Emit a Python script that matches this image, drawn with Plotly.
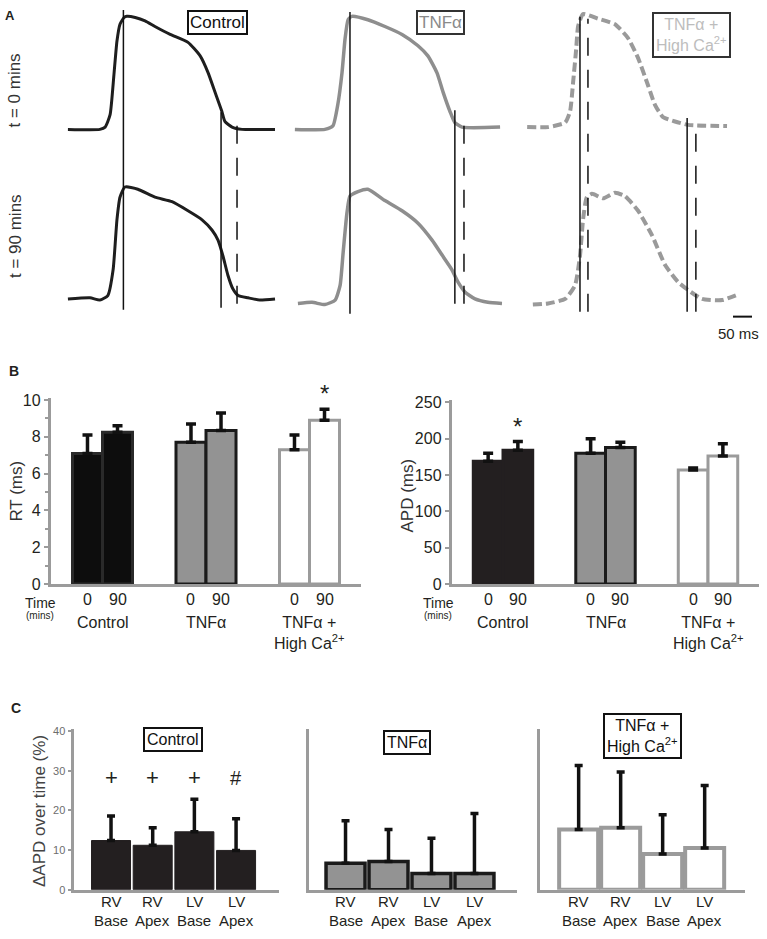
import plotly.graph_objects as go

# ======================= DATA =======================
# Panel A: optical action potentials (time in ms from sweep start, normalised amplitude)
ctrl_t0_time = [34, 118, 132, 145, 155, 163, 171, 182, 189, 211, 237, 263, 303, 350, 382, 403, 421, 439, 447, 466, 492, 579]
ctrl_t0_v = [0, 0, 0.02, 0.13, 0.48, 0.78, 0.93, 0.99, 1.0, 0.99, 0.96, 0.91, 0.84, 0.77, 0.65, 0.50, 0.33, 0.16, 0.07, 0.02, 0, 0]
ctrl_t90_time = [34, 92, 118, 139, 153, 163, 171, 184, 218, 263, 308, 350, 387, 413, 429, 442, 455, 468, 482, 508, 539, 579]
ctrl_t90_v = [0, 0.01, -0.01, 0.03, 0.26, 0.70, 0.90, 0.99, 0.97, 0.90, 0.86, 0.78, 0.70, 0.61, 0.52, 0.38, 0.21, 0.09, 0.03, 0.01, -0.01, 0]

tnf_t0_time = [26, 105, 126, 139, 150, 158, 166, 176, 218, 263, 308, 350, 376, 400, 416, 434, 447, 466, 566]
tnf_t0_v = [0, 0, 0.03, 0.22, 0.50, 0.80, 0.97, 1.0, 0.97, 0.91, 0.84, 0.74, 0.65, 0.50, 0.33, 0.16, 0.06, 0.02, 0.02]
tnf_t90_time = [34, 71, 105, 132, 145, 153, 163, 171, 192, 218, 263, 308, 350, 387, 413, 439, 455, 474, 500, 534, 571]
tnf_t90_v = [-0.04, -0.03, -0.05, -0.01, 0.12, 0.41, 0.76, 0.91, 0.95, 0.97, 0.87, 0.78, 0.67, 0.52, 0.39, 0.26, 0.15, 0.06, 0.0, -0.03, -0.04]

ca_t0_time = [32, 87, 132, 145, 153, 161, 166, 179, 218, 263, 297, 324, 350, 368, 389, 421, 455, 558]
ca_t0_v = [0.02, 0.02, 0.06, 0.16, 0.42, 0.71, 0.91, 1.02, 0.98, 0.93, 0.81, 0.63, 0.39, 0.22, 0.11, 0.07, 0.04, 0.03]
ca_t90_time = [47, 87, 132, 158, 171, 179, 189, 203, 232, 263, 289, 324, 361, 395, 429, 455, 492, 545, 587]
ca_t90_v = [-0.05, -0.04, 0.0, 0.12, 0.38, 0.70, 0.90, 0.93, 0.89, 0.94, 0.91, 0.78, 0.56, 0.30, 0.15, 0.08, 0.0, -0.01, 0.04]

# activation / repolarisation times (ms) at t=0 and t=90 mins
ctrl_act = [180, 180]
ctrl_rep = [437, 479]
tnf_act = [171, 171]
tnf_rep = [447, 471]
ca_act = [171, 192]
ca_rep = [453, 476]
scale_bar_ms = 50

# Panel B
groups_b = ["Control", "TNFα", "TNFα + High Ca²⁺"]
group_labels_b = ["Control", "TNFα", "TNFα +<br>High Ca<sup>2+</sup>"]
time_labels = ["0", "90"]
rt_0 = [7.1, 7.7, 7.3]
rt_0_err = [1.0, 1.0, 0.8]
rt_90 = [8.25, 8.35, 8.9]
rt_90_err = [0.35, 0.95, 0.6]
apd_0 = [169, 180, 157]
apd_0_err = [11, 20, 2.5]
apd_90 = [184, 188, 176]
apd_90_err = [12, 7, 17]
rt_star_group = 2      # * above TNFα + High Ca 90 min
apd_star_group = 0     # * above Control 90 min

# Panel C
regions = ["RV Base", "RV Apex", "LV Base", "LV Apex"]
dapd_ctrl = [12.4, 11.2, 14.6, 9.9]
dapd_ctrl_err = [6.2, 4.4, 8.2, 8.0]
dapd_tnf = [6.7, 7.1, 4.1, 4.1]
dapd_tnf_err = [10.7, 8.1, 8.9, 15.1]
dapd_ca = [15.2, 15.6, 9.0, 10.5]
dapd_ca_err = [16.1, 14.1, 9.9, 15.8]
ctrl_marks_c = ["+", "+", "+", "#"]

# ======================= LAYOUT HELPERS =======================
W, H = 767, 939
FONT = "Liberation Sans, Arial, sans-serif"
TXT = "#231f20"
AXC = "#9b9b9b"


def px(x):
    return x / W


def py(y):
    return 1 - y / H


fig = go.Figure()
layout = dict(width=W, height=H, margin=dict(l=0, r=0, t=0, b=0),
              paper_bgcolor="white", plot_bgcolor="white", showlegend=False,
              barmode="overlay", font=dict(family=FONT, color=TXT))
annotations = []
shapes = []


def ann(text, x, y, size, color=TXT, xref="paper", yref="paper", **kw):
    d = dict(text=text, x=px(x) if xref == "paper" else x, y=py(y) if yref == "paper" else y,
             xref=xref, yref=yref, showarrow=False,
             font=dict(family=FONT, size=size, color=color),
             xanchor=kw.pop("xanchor", "center"), yanchor=kw.pop("yanchor", "middle"))
    d.update(kw)
    annotations.append(d)


# ======================= PANEL A =======================
A_COLS = [(55, 285), (285, 510), (515, 767)]
PX_PER_MS = 0.38
A_TOP, A_BOT = 0, 318
A_BASE, A_AMP = 297, 115
A_OFFSET = 1.5
a_yrange = [(A_BASE - A_BOT) / A_AMP, (A_BASE - A_TOP) / A_AMP]

cols = [
    (ctrl_t0_time, ctrl_t0_v, ctrl_t90_time, ctrl_t90_v, "#1e1e1e", 3, "solid", ctrl_act, ctrl_rep),
    (tnf_t0_time, tnf_t0_v, tnf_t90_time, tnf_t90_v, "#8e8e8e", 3.5, "solid", tnf_act, tnf_rep),
    (ca_t0_time, ca_t0_v, ca_t90_time, ca_t90_v, "#9a9a9a", 4, "9px,4px", ca_act, ca_rep),
]
# vertical extents (px) of marker lines: [act0, act90, rep0, rep90]
vext = [
    [(3, 308), (3, 308), (107, 306), (110, 302)],
    [(5, 312), (5, 312), (105, 302), (110, 302)],
    [(10, 310), (12, 310), (113, 310), (115, 310)],
]
VDASH = "18px,14px"

for i, (t0, v0, t9, v9, col, lw, dash, act, rep) in enumerate(cols):
    sfx = "" if i == 0 else str(i + 1)
    xa, ya = "x" + sfx, "y" + sfx
    l, r = A_COLS[i]
    layout["xaxis" + sfx] = dict(domain=[px(l), px(r)], range=[0, (r - l) / PX_PER_MS],
                                  anchor=ya, visible=False)
    layout["yaxis" + sfx] = dict(domain=[py(A_BOT), py(A_TOP)], range=a_yrange,
                                  anchor=xa, visible=False)
    fig.add_trace(go.Scatter(x=t0, y=[v + A_OFFSET for v in v0], mode="lines",
                             line=dict(color=col, width=lw, dash=dash, shape="spline", smoothing=0.5),
                             xaxis=xa, yaxis=ya, hoverinfo="skip"))
    fig.add_trace(go.Scatter(x=t9, y=v9, mode="lines",
                             line=dict(color=col, width=lw, dash=dash, shape="spline", smoothing=0.5),
                             xaxis=xa, yaxis=ya, hoverinfo="skip"))
    ext = vext[i]
    marks = [(act[0], ext[0], "solid"), (act[1], ext[1], VDASH),
             (rep[0], ext[2], "solid"), (rep[1], ext[3], VDASH)]
    if act[0] == act[1]:
        marks.pop(1)
    for t, (top, bot), d in marks:
        shapes.append(dict(type="line", xref=xa, yref="paper", x0=t, x1=t,
                           y0=py(bot), y1=py(top), line=dict(color="#111", width=1.5, dash=d)))

# scale bar
sb_x0 = (733 - A_COLS[2][0]) / PX_PER_MS
shapes.append(dict(type="line", xref="x3", yref="paper", x0=sb_x0, x1=sb_x0 + scale_bar_ms,
                   y0=py(315), y1=py(315), line=dict(color="#111", width=2)))
ann(f"{scale_bar_ms} ms", sb_x0 + scale_bar_ms, 332, 15, xref="x3", xanchor="right", xshift=9)

ann("<b>A</b>", 10, 9, 13)
ann("t = 0 mins", 15, 85, 17, color="#333", textangle=-90)
ann("t = 90 mins", 15, 233, 17, color="#333", textangle=-90)
ann("Control", 217, 16, 17, color="#111", bordercolor="#111", borderwidth=2, borderpad=1, bgcolor="white")
ann("TNFα", 440, 16, 17, color="#8a8a8a", bordercolor="#333", borderwidth=2, borderpad=1, bgcolor="white")
ann("TNFα +<br>High Ca<sup>2+</sup>", 691, 28, 16, color="#bdbdbd", bordercolor="#333",
    borderwidth=2, borderpad=2, bgcolor="white")

# ======================= PANEL B =======================
fills_b = ["#0d0d0d", "#939393", "white"]
lines_b = ["#2a2a2a", "#1a1a1a", "#9b9b9b"]
BW = 0.29


def bpanel(n, dom_x, dom_y, yrange, vals0, err0, vals1, err1, tickvals, minor, fills, lines):
    xa, ya = f"x{n}", f"y{n}"
    layout[f"xaxis{n}"] = dict(domain=[px(dom_x[0]), px(dom_x[1])], anchor=ya, type="category",
                               categoryarray=groups_b, range=[-0.5, 2.5], showline=True,
                               linecolor=AXC, linewidth=3, showticklabels=False, ticks="",
                               showgrid=False, zeroline=False)
    yax = dict(domain=[py(dom_y[1]), py(dom_y[0])], anchor=xa, range=yrange, showline=True,
               linecolor=AXC, linewidth=3, ticks="outside", ticklen=4, tickwidth=2,
               tickcolor=AXC, tickvals=tickvals, showgrid=False, zeroline=False,
               tickfont=dict(family=FONT, size=16, color=TXT))
    if minor:
        yax["minor"] = dict(tickvals=minor, ticks="outside", ticklen=3, tickwidth=1.5, tickcolor=AXC)
    layout[f"yaxis{n}"] = yax
    for vals, errs, off in [(vals0, err0, -BW), (vals1, err1, 0)]:
        fig.add_trace(go.Bar(x=groups_b, y=vals, width=BW, offset=off,
                             marker=dict(color=fills, line=dict(color=lines, width=3)),
                             error_y=dict(type="data", array=errs, arrayminus=[0] * len(errs),
                                          symmetric=False, color="#111", thickness=3.5, width=5),
                             xaxis=xa, yaxis=ya, hoverinfo="skip"))
    for g, lab in enumerate(group_labels_b):
        ann(time_labels[0], g - BW / 2, 603, 16, xref=xa)
        ann(time_labels[1], g + BW / 2, 603, 16, xref=xa)
        ann(lab, g, 615, 16, xref=xa, yanchor="top")


bpanel(4, (50.75, 361.25), (398, 587), [0, 10.1], rt_0, rt_0_err, rt_90, rt_90_err,
       [0, 2, 4, 6, 8, 10], [1, 3, 5, 7, 9], fills_b, lines_b)
bpanel(5, (451.75, 759.25), (400, 587), [0, 253], apd_0, apd_0_err, apd_90, apd_90_err,
       [0, 50, 100, 150, 200, 250], None, ["#231f20", "#939393", "white"],
       ["#231f20", "#1a1a1a", "#9b9b9b"])

ann("*", rt_star_group + BW / 2, rt_90[rt_star_group] + rt_90_err[rt_star_group], 24,
    xref="x4", yref="y4", yanchor="bottom", yshift=0)
ann("*", apd_star_group + BW / 2, apd_90[apd_star_group] + apd_90_err[apd_star_group], 24,
    xref="x5", yref="y5", yanchor="bottom", yshift=0)

ann("<b>B</b>", 14, 370, 14)
ann("RT (ms)", 17, 493, 17, textangle=-90, color="#333")
ann("APD (ms)", 408, 497, 17, textangle=-90, color="#333")
for tx in (40, 438):
    ann("Time", tx, 597, 14, yanchor="top", borderpad=0)
    ann("(mins)", tx, 612, 10, yanchor="top", borderpad=0)

# ======================= PANEL C =======================
C_TOP, C_BOT = 735, 898
cpanels = [
    (6, (73.5, 279), [-0.9, 4.03], dapd_ctrl, dapd_ctrl_err, "#231f20", "#231f20", 1, True),
    (7, (309, 517), [-0.85, 3.99], dapd_tnf, dapd_tnf_err, "#939393", "#1a1a1a", 3.5, False),
    (8, (540, 745), [-0.92, 3.96], dapd_ca, dapd_ca_err, "white", "#9b9b9b", 4, False),
]
for n, (l, r), xr, vals, errs, fill, lcol, lw, labels in cpanels:
    xa, ya = f"x{n}", f"y{n}"
    layout[f"xaxis{n}"] = dict(domain=[px(l), px(r)], anchor=ya, type="category",
                               categoryarray=regions, range=xr, showline=True, linecolor=AXC,
                               linewidth=3, showticklabels=False, ticks="", showgrid=False,
                               zeroline=False)
    layout[f"yaxis{n}"] = dict(domain=[py(C_BOT), py(C_TOP)], anchor=xa, range=[0, 40.4],
                               showline=True, linecolor=AXC, linewidth=3,
                               ticks="outside" if labels else "", ticklen=3, tickwidth=1.5,
                               tickcolor=AXC, tickvals=[0, 10, 20, 30, 40],
                               showticklabels=labels, showgrid=False, zeroline=False,
                               tickfont=dict(family=FONT, size=11, color="#6d6d6d"))
    bw = 39 / ((r - l) / (xr[1] - xr[0]))
    fig.add_trace(go.Bar(x=regions, y=vals, width=bw,
                         marker=dict(color=fill, line=dict(color=lcol, width=lw)),
                         error_y=dict(type="data", array=errs, arrayminus=[0] * len(errs),
                                      symmetric=False, color="#111", thickness=3.5, width=4),
                         xaxis=xa, yaxis=ya, hoverinfo="skip"))
    for k, reg in enumerate(regions):
        a, b = reg.split(" ")
        ann(a, k, 920, 15, xref=xa, yanchor="bottom", borderpad=0)
        ann(b, k, 920, 15, xref=xa, yanchor="top", borderpad=0)

for k, m in enumerate(ctrl_marks_c):
    ann(m, k, 784, 22 if m == "+" else 20, xref="x6")

ann("<b>C</b>", 16, 713, 14)
ann("ΔAPD over time (%)", 39, 818, 17, textangle=-90, color="#444")
ann("Control", 173, 745, 16, color="#111", bordercolor="#111", borderwidth=2, borderpad=2, bgcolor="white")
ann("TNFα", 407, 748, 16, color="#111", bordercolor="#111", borderwidth=2, borderpad=2, bgcolor="white")
ann("TNFα +<br>High Ca<sup>2+</sup>", 642, 742, 16, color="#111", bordercolor="#111",
    borderwidth=2, borderpad=2, bgcolor="white")

layout["annotations"] = annotations
layout["shapes"] = shapes
fig.update_layout(**layout)
fig.write_html("out.html", config={"displayModeBar": False},
               post_script="document.body.style.margin='0px';")
